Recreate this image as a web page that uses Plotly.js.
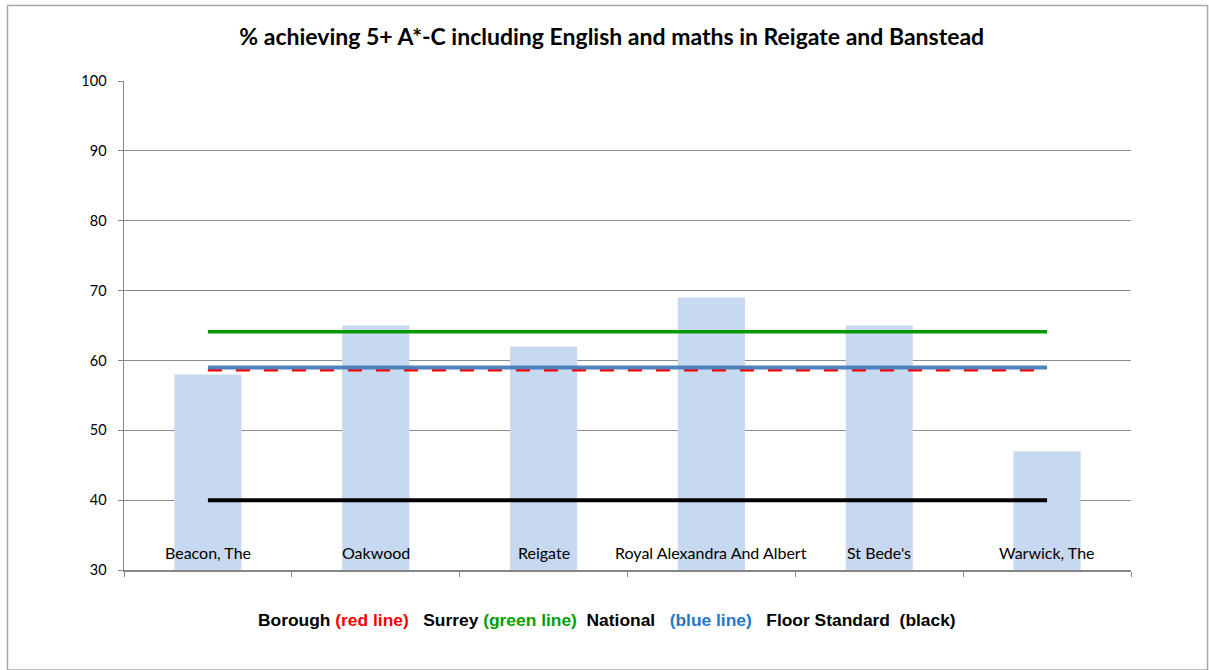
<!DOCTYPE html>
<html>
<head>
<meta charset="utf-8">
<script src="https://cdn.plot.ly/plotly-3.0.1.min.js"></script>
<style>html,body{margin:0;padding:0;background:#fff;}#chart{width:1209px;height:670px;}</style>
</head>
<body>
<div id="chart"></div>
<script>
const schools = ["Beacon, The", "Oakwood", "Reigate", "Royal Alexandra And Albert", "St Bede's", "Warwick, The"];
const pctAchieving = [58, 65, 62, 69, 65, 47];
const borough = [58.6, 58.6, 58.6, 58.6, 58.6, 58.6];
const surrey = [64.1, 64.1, 64.1, 64.1, 64.1, 64.1];
const national = [59.0, 59.0, 59.0, 59.0, 59.0, 59.0];
const floorStandard = [40, 40, 40, 40, 40, 40];
const yTicks = [30, 40, 50, 60, 70, 80, 90, 100];

const traces = [
  {type: 'bar', x: schools, y: pctAchieving, width: 0.4, marker: {color: '#c6d9f0', line: {width: 0}}, hoverinfo: 'x+y', base: 0},
  {type: 'scatter', mode: 'lines', x: schools, y: floorStandard, line: {color: '#000000', width: 4}},
  {type: 'scatter', mode: 'lines', x: schools, y: surrey, line: {color: '#009900', width: 3.5}},
  {type: 'scatter', mode: 'lines', x: schools, y: borough, line: {color: '#ff0000', width: 2.5, dash: '14px,14px'}},
  {type: 'scatter', mode: 'lines', x: schools, y: national, line: {color: '#4f81bd', width: 4}}
];

const catAnnotations = schools.map(s => ({
  x: s, y: 30, xref: 'x', yref: 'y', yanchor: 'bottom', yshift: 6,
  text: s, showarrow: false,
  font: {family: 'Lato, Carlito, sans-serif', size: 16, color: '#000'}
}));

const legendText = '<b>Borough <span style="color:#ff0000">(red line)</span>&nbsp;&nbsp; Surrey <span style="color:#00a000">(green line)</span>&nbsp; National&nbsp;&nbsp; <span style="color:#1f78c8">(blue line)</span>&nbsp;&nbsp; Floor Standard&nbsp; (black)</b>';

const layout = {
  width: 1209, height: 670,
  margin: {l: 124, r: 78, t: 81, b: 100},
  paper_bgcolor: '#ffffff', plot_bgcolor: '#ffffff',
  showlegend: false,
  title: {
    text: '<b>% achieving 5+ A*-C including English and maths in Reigate and Banstead</b>',
    x: 0.506, xanchor: 'center', y: 0.945, yanchor: 'middle',
    font: {family: 'Lato, Carlito, sans-serif', size: 23, color: '#000'}
  },
  xaxis: {
    type: 'category', range: [-0.5, 5.5],
    showgrid: false, showticklabels: false,
    showline: true, linecolor: '#868686', linewidth: 1.5,
    ticks: 'outside', ticklen: 5, tickcolor: '#868686', tickson: 'boundaries',
    zeroline: false, fixedrange: true
  },
  yaxis: {
    range: [30, 100], tickvals: yTicks, ticktext: yTicks.map(String),
    showgrid: true, gridcolor: '#8c8c8c', gridwidth: 1,
    showline: true, linecolor: '#868686', linewidth: 1.5,
    ticks: 'outside', ticklen: 5, tickcolor: '#868686',
    ticklabelstandoff: 8,
    tickfont: {family: 'Lato, Carlito, sans-serif', size: 14.5, color: '#000'},
    zeroline: false, fixedrange: true
  },
  annotations: catAnnotations.concat([{
    xref: 'paper', yref: 'paper', x: 0.4795, y: -0.103, xanchor: 'center', yanchor: 'middle',
    text: legendText, showarrow: false,
    font: {family: '"Liberation Sans", Arial, sans-serif', size: 17.4, color: '#000'}
  }]),
  shapes: [{
    type: 'rect', xref: 'paper', yref: 'paper',
    x0: -0.1157, x1: 1.0760, y0: -0.2045, y1: 1.1544,
    line: {color: '#a6a6a6', width: 1.5}, fillcolor: 'rgba(0,0,0,0)', layer: 'below'
  }]
};

Plotly.newPlot('chart', traces, layout, {displayModeBar: false, staticPlot: true});
</script>
</body>
</html>
